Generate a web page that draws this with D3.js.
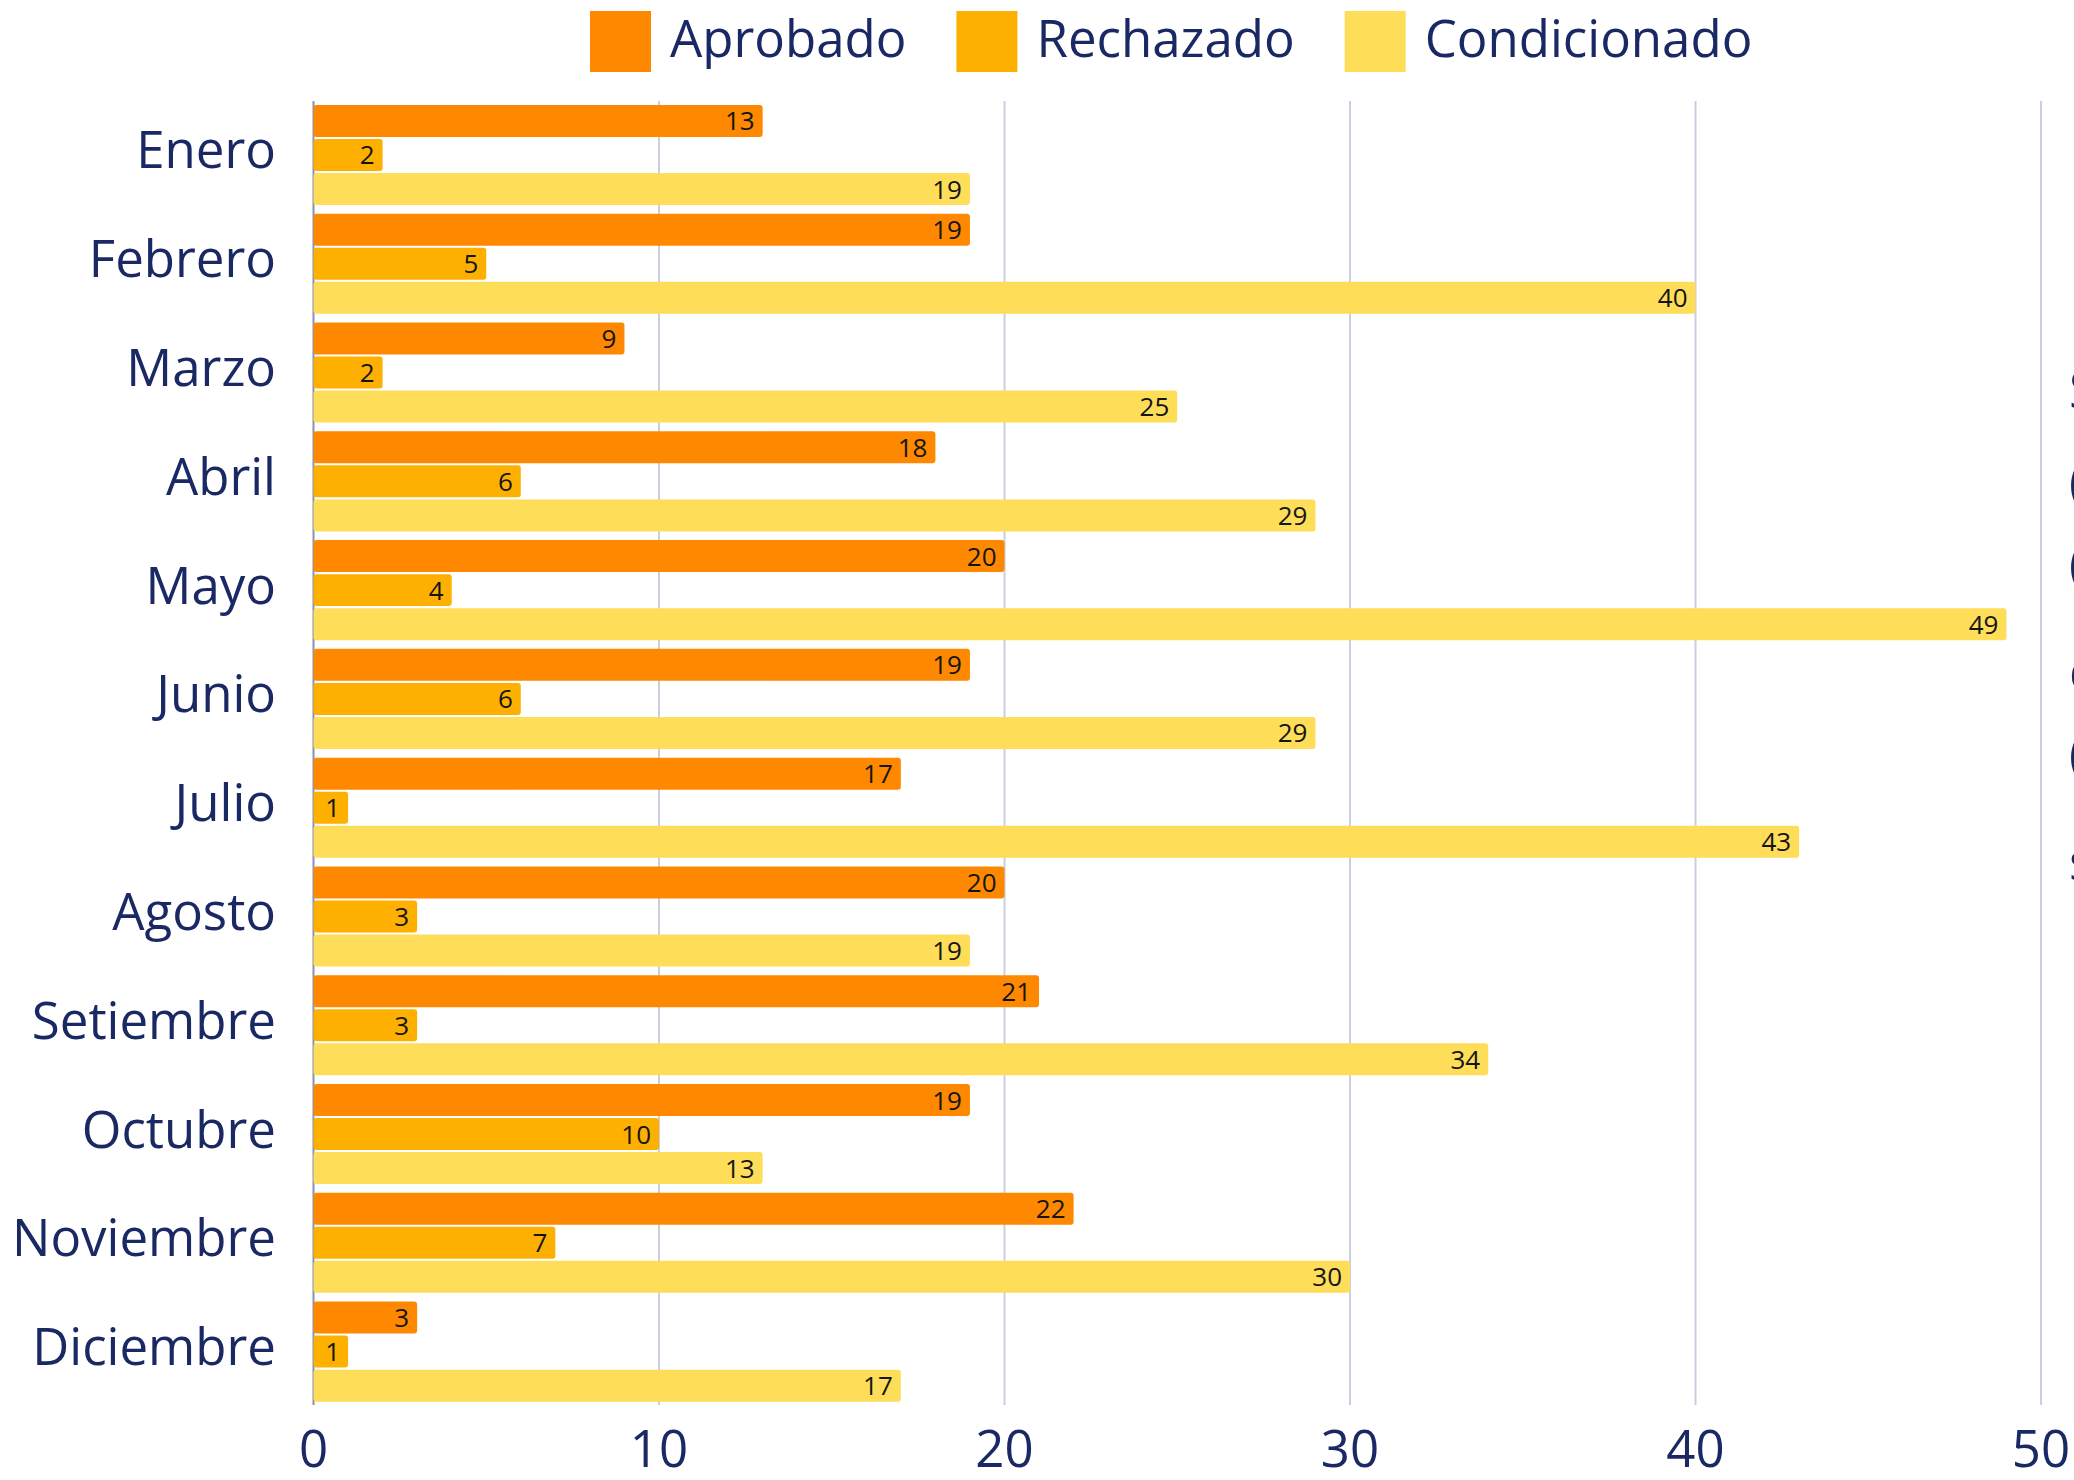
<!DOCTYPE html>
<html>
<head>
<meta charset="utf-8">
<title>Solicitudes por mes</title>
<script src="https://d3js.org/d3.v7.min.js"></script>
<style>
  body { margin: 0; background: #fff; }
  svg { display: block; font-family: "Open Sans", sans-serif; }
</style>
</head>
<body>
<script>
// chart values
var meses = ["Enero", "Febrero", "Marzo", "Abril", "Mayo", "Junio", "Julio",
             "Agosto", "Setiembre", "Octubre", "Noviembre", "Diciembre"];
var series = ["Aprobado", "Rechazado", "Condicionado"];
var aprobado     = [13, 19,  9, 18, 20, 19, 17, 20, 21, 19, 22,  3];
var rechazado    = [ 2,  5,  2,  6,  4,  6,  1,  3,  3, 10,  7,  1];
var condicionado = [19, 40, 25, 29, 49, 29, 43, 19, 34, 13, 30, 17];
var xTicks = [0, 10, 20, 30, 40, 50];
// slivers of text cut off at the right edge
var cortado = ["S", "(", "(", "c", "(", "s"];

var colores = ["#fe8800", "#feb001", "#fedd59"];
var azul = "#1a2964";

var width = 2074, height = 1480;

var svg = d3.select("body").append("svg")
  .attr("width", width)
  .attr("height", height);

var valores = [aprobado, rechazado, condicionado];
var filas = meses.map(function(m, i) {
  return { mes: m, vals: series.map(function(s, j) { return { serie: s, v: valores[j][i] }; }) };
});

var x = d3.scaleLinear().domain([0, 50]).range([313.5, 2041]);
var y0 = d3.scaleBand().domain(meses).range([100.6, 1406])
  .paddingInner(0.08).paddingOuter(0.04);
var y1 = d3.scaleBand().domain(series).range([0, y0.bandwidth()]).paddingInner(0.06);
var color = d3.scaleOrdinal().domain(series).range(colores);

// grid lines
svg.append("g")
  .selectAll("line")
  .data(xTicks.slice(1))
  .enter().append("line")
  .attr("x1", function(d) { return x(d); })
  .attr("x2", function(d) { return x(d); })
  .attr("y1", 101)
  .attr("y2", 1405)
  .attr("stroke", "#cdcde0")
  .attr("stroke-width", 2);

// category axis line (only visible in the gaps)
svg.append("line")
  .attr("x1", x(0)).attr("x2", x(0))
  .attr("y1", 101).attr("y2", 1405)
  .attr("stroke", "#8a90b0")
  .attr("stroke-width", 2);

// x tick labels
svg.append("g")
  .selectAll("text")
  .data(xTicks)
  .enter().append("text")
  .attr("x", function(d) { return x(d); })
  .attr("y", 1467)
  .attr("text-anchor", "middle")
  .attr("font-size", 51)
  .attr("fill", azul)
  .text(function(d) { return d; });

// month labels
svg.append("g")
  .selectAll("text")
  .data(meses)
  .enter().append("text")
  .attr("x", 276)
  .attr("y", function(d) { return y0(d) + y0.bandwidth() / 2 + 13.5; })
  .attr("text-anchor", "end")
  .attr("font-size", 51)
  .attr("fill", azul)
  .text(function(d) { return d; });

// bars
var grupo = svg.append("g")
  .selectAll("g")
  .data(filas)
  .enter().append("g")
  .attr("transform", function(d) { return "translate(0," + y0(d.mes) + ")"; });

grupo.selectAll("rect")
  .data(function(d) { return d.vals; })
  .enter().append("rect")
  .attr("x", x(0))
  .attr("y", function(d) { return y1(d.serie); })
  .attr("width", function(d) { return x(d.v) - x(0); })
  .attr("height", y1.bandwidth())
  .attr("rx", 3)
  .attr("fill", function(d) { return color(d.serie); });

grupo.selectAll("text")
  .data(function(d) { return d.vals; })
  .enter().append("text")
  .attr("x", function(d) { return x(d.v) - 8; })
  .attr("y", function(d) { return y1(d.serie) + y1.bandwidth() / 2 + 9.5; })
  .attr("text-anchor", "end")
  .attr("font-size", 26)
  .attr("fill", "#151515")
  .text(function(d) { return d.v; });

// legend
var leyenda = svg.append("g");
var lx = 590;
series.forEach(function(s) {
  leyenda.append("rect")
    .attr("x", lx).attr("y", 11)
    .attr("width", 61).attr("height", 61)
    .attr("fill", color(s));
  var t = leyenda.append("text")
    .attr("x", lx + 80)
    .attr("y", 57)
    .attr("font-size", 51)
    .attr("fill", azul)
    .text(s);
  lx += 80 + t.node().getComputedTextLength() + 50;
});

// text cut off by the right edge
svg.append("g")
  .selectAll("text")
  .data(cortado)
  .enter().append("text")
  .attr("x", 2069)
  .attr("y", function(d, i) { return [408, 500, 582, 690, 772, 880][i]; })
  .attr("font-size", 51)
  .attr("fill", azul)
  .text(function(d) { return d; });
</script>
</body>
</html>
